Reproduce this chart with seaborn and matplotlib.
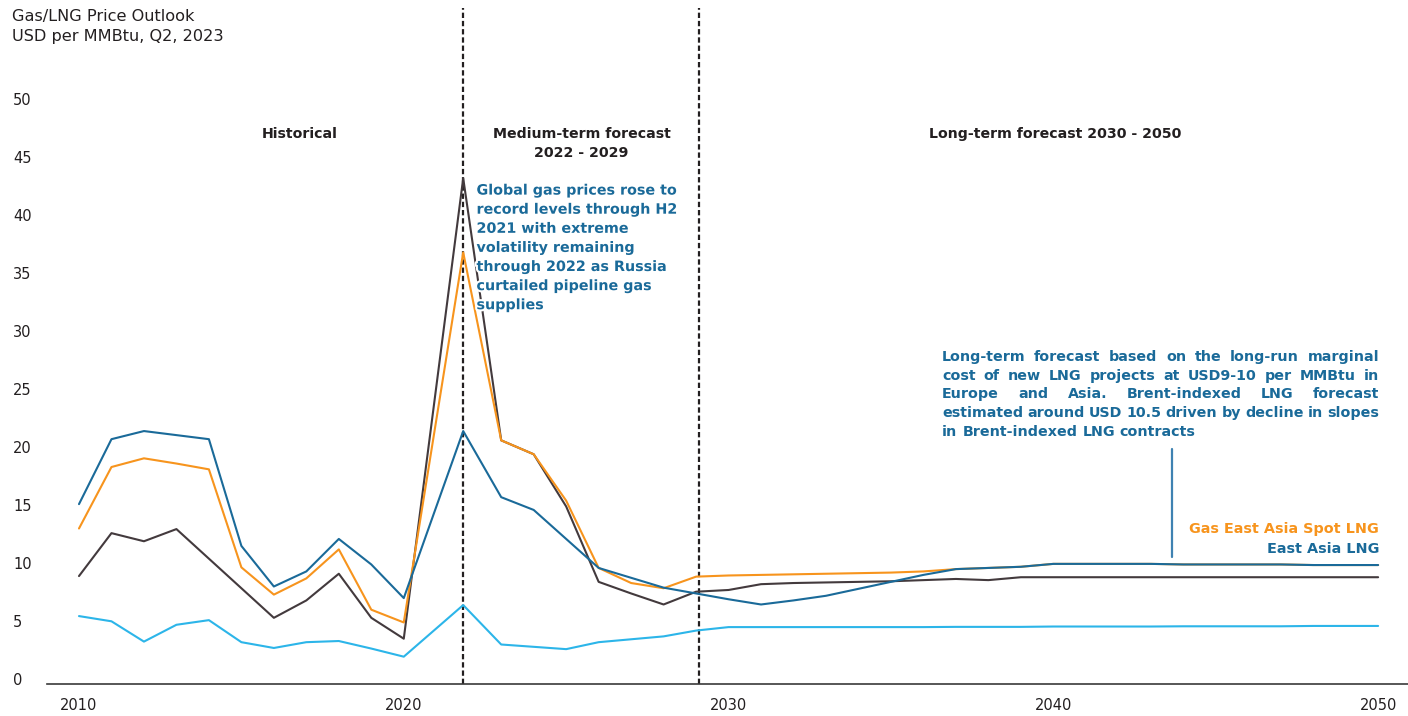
import matplotlib
matplotlib.use("Agg")
import matplotlib.pyplot as plt
import matplotlib.patheffects as pe
import numpy as np
import pandas as pd
import seaborn as sns

# ---------------- data ----------------
years = [2010, 2011, 2012, 2013, 2014, 2015, 2016, 2017, 2018, 2019, 2020, 2021.83,
         2023, 2024, 2025, 2026, 2027, 2028, 2029,
         2030, 2031, 2032, 2033, 2034, 2035, 2036, 2037, 2038, 2039, 2040,
         2041, 2042, 2043, 2044, 2045, 2046, 2047, 2048, 2049, 2050]

europe_gas = [8.9, 12.6, 11.9, 12.95, 10.4, 7.85, 5.3, 6.8, 9.1, 5.3, 3.5, 43.2,
              20.6, 19.4, 14.9, 8.4, 7.4, 6.45, 7.55,
              7.7, 8.2, 8.3, 8.35, 8.4, 8.45, 8.55, 8.65, 8.55, 8.8, 8.8,
              8.8, 8.8, 8.8, 8.8, 8.8, 8.8, 8.8, 8.8, 8.8, 8.8]

spot_lng = [13.0, 18.3, 19.05, 18.6, 18.1, 9.65, 7.3, 8.7, 11.2, 6.0, 4.9, 36.8,
            20.6, 19.4, 15.4, 9.6, 8.3, 7.85, 8.85,
            8.95, 9.0, 9.05, 9.1, 9.15, 9.2, 9.3, 9.5, 9.6, 9.7, 9.95,
            9.95, 9.95, 9.95, 9.9, 9.9, 9.9, 9.9, 9.85, 9.85, 9.85]

east_asia_lng = [15.1, 20.7, 21.4, 21.05, 20.7, 11.5, 8.0, 9.3, 12.1, 9.9, 7.0, 21.4,
                 15.7, 14.6, 12.1, 9.6, 8.75, 7.9, 7.4,
                 6.9, 6.45, 6.8, 7.2, 7.8, 8.4, 9.0, 9.5, 9.6, 9.7, 9.95,
                 9.95, 9.95, 9.95, 9.9, 9.9, 9.9, 9.9, 9.85, 9.85, 9.85]

us_gas = [5.45, 5.0, 3.25, 4.7, 5.1, 3.2, 2.7, 3.2, 3.3, 2.65, 1.95, 6.4,
          3.0, 2.8, 2.6, 3.2, 3.45, 3.7, 4.2,
          4.5, 4.5, 4.5, 4.5, 4.5, 4.5, 4.5, 4.52, 4.52, 4.52, 4.55,
          4.55, 4.55, 4.55, 4.57, 4.57, 4.57, 4.57, 4.6, 4.6, 4.6]

series_names = ["Europe gas", "Gas East Asia Spot LNG", "East Asia LNG", "US gas"]
series_values = [europe_gas, spot_lng, east_asia_lng, us_gas]
series_colors = ["#433a3d", "#f7941d", "#1a6a99", "#2cb5e9"]

period_bounds = [2021.83, 2029.1]
x_ticks = [2010, 2020, 2030, 2040, 2050]
y_ticks = [0, 5, 10, 15, 20, 25, 30, 35, 40, 45, 50]

title_lines = ["Gas/LNG Price Outlook", "USD per MMBtu, Q2, 2023"]
period_labels = ["Historical", "Medium-term forecast", "2022 - 2029",
                 "Long-term forecast 2030 - 2050"]
note_mid = ["Global gas prices rose to", "record levels through H2", "2021 with extreme",
            "volatility remaining", "through 2022 as Russia", "curtailed pipeline gas",
            "supplies"]
note_long = ["Long-term forecast based on the  long-run marginal",
             "cost of new LNG projects at USD9-10 per MMBtu in",
             "Europe and Asia. Brent-indexed LNG forecast",
             "estimated around USD 10.5 driven by decline in slopes",
             "in Brent-indexed LNG contracts"]
legend_labels = ["Gas East Asia Spot LNG", "East Asia LNG"]

# ---------------- frame ----------------
long = pd.concat([pd.DataFrame({"year": years, "value": v, "series": n})
                  for n, v in zip(series_names, series_values)], ignore_index=True)

sns.set_style("white")
plt.rcParams["font.family"] = ["DejaVu Sans"]

W, H = 1408, 716
fig = plt.figure(figsize=(W / 100, H / 100), dpi=100)
ax = fig.add_axes([47 / W, (H - 684) / H, (W - 47) / W, (684 - 8) / H])

TXT = "#231f20"
TEAL = "#1a6a99"

sns.lineplot(data=long, x="year", y="value", hue="series", hue_order=series_names,
             palette=dict(zip(series_names, series_colors)), linewidth=1.5,
             estimator=None, sort=False, legend=False, ax=ax)

for b in period_bounds:
    ax.axvline(b, color=TXT, lw=1.6, ls=(0, (2.4, 1.3)), zorder=1)

ax.set_xlim(2009.015, 2050.92)
ax.set_ylim(-0.405, 57.87)
ax.set_xticks(x_ticks)
ax.set_xticklabels([str(t) for t in x_ticks])
ax.set_yticks(y_ticks)
ax.set_yticklabels([str(t) for t in y_ticks])
ax.set_xlabel("")
ax.set_ylabel("")
for s in ["left", "top", "right"]:
    ax.spines[s].set_visible(False)
ax.spines["bottom"].set_color("#3a3a3a")
ax.spines["bottom"].set_linewidth(1.2)
ax.tick_params(axis="both", length=0, labelsize=10.5, labelcolor=TXT)
ax.tick_params(axis="x", pad=10)
ax.tick_params(axis="y", pad=24.5)
for lab in ax.get_yticklabels():
    lab.set_horizontalalignment("left")
ax.grid(False)


def ftext(x, y, s, **kw):
    return fig.text(x / W, 1 - y / H, s, **kw)


# title
ftext(12, 20.7, title_lines[0], fontsize=11.6, color=TXT, va="baseline")
ftext(12, 40.5, title_lines[1], fontsize=11.6, color=TXT, va="baseline")

# period headings
bold = dict(fontsize=10.2, fontweight="bold", va="baseline", ha="center")
ftext(299.5, 138.3, period_labels[0], color=TXT, **bold)
ftext(581.5, 138.3, period_labels[1], color=TXT, **bold)
ftext(581, 157.3, period_labels[2], color=TXT, **bold)
ftext(1055, 138.3, period_labels[3], color=TXT, **bold)

# mid annotation
for i, line in enumerate(note_mid):
    t = ftext(476.5, 194.6 + i * 19.1, line, fontsize=10.3, fontweight="bold",
              color=TEAL, va="baseline", ha="left")
    t.set_path_effects([pe.withStroke(linewidth=3, foreground="white")])

# justified long-term annotation
fig.canvas.draw()
r = fig.canvas.get_renderer()
x0, x1 = 942, 1379
nkw = dict(fontsize=10.3, fontweight="bold", color=TEAL, va="baseline", ha="left")
probe1 = ftext(0, 0, "a a", **nkw)
probe2 = ftext(0, 0, "aa", **nkw)
space_w = probe1.get_window_extent(r).width - probe2.get_window_extent(r).width
probe1.remove()
probe2.remove()
for i, line in enumerate(note_long):
    yb = 360.7 + i * 18.9
    words = line.split()
    ts = [ftext(0, yb, w_, **nkw) for w_ in words]
    ws = [t.get_window_extent(r).width for t in ts]
    if i == len(note_long) - 1:
        gap = space_w
    else:
        gap = (x1 - x0 - sum(ws)) / (len(words) - 1)
    x = x0
    for t, w_ in zip(ts, ws):
        t.set_x(x / W)
        x += w_ + gap

# pointer line and direct labels
fig.add_artist(plt.Line2D([1171.5 / W, 1171.5 / W], [1 - 449 / H, 1 - 557 / H],
                          color="#3f82b2", lw=1.6))
ftext(1379, 532.7, legend_labels[0], fontsize=10.4, fontweight="bold",
      color=series_colors[1], va="baseline", ha="right")
ftext(1379, 552.7, legend_labels[1], fontsize=10.4, fontweight="bold",
      color=TEAL, va="baseline", ha="right")

fig.savefig("out.png", dpi=100, facecolor="white")
